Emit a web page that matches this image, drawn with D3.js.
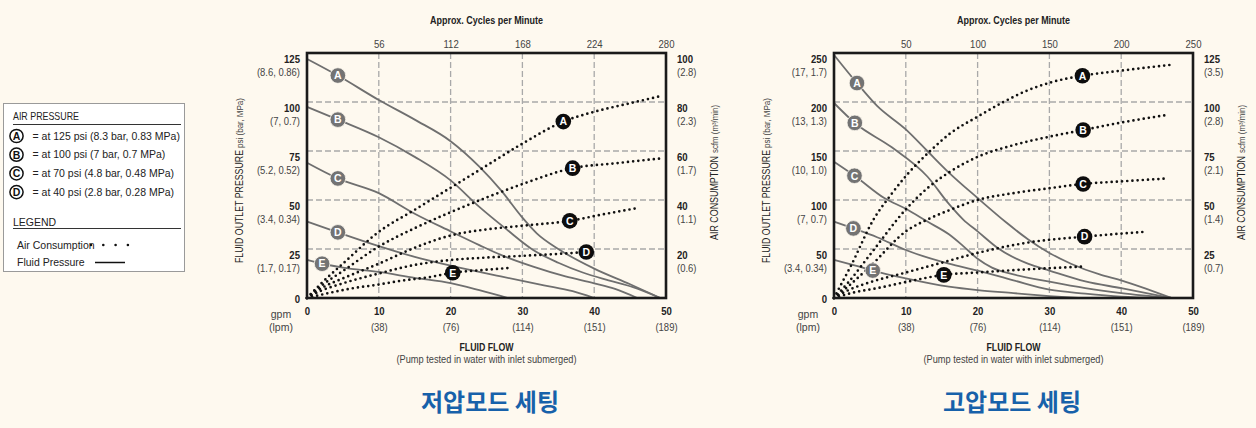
<!DOCTYPE html>
<html><head><meta charset="utf-8">
<script src="https://cdn.jsdelivr.net/npm/d3@7"></script>
<style>
html,body{margin:0;padding:0;background:#fef9ef;}
svg{display:block;}
text{font-family:"Liberation Sans Narrow","Liberation Sans",Arial,sans-serif;}
</style></head><body>
<svg id="c" width="1256" height="428"></svg>
<script>
// ---------- shared ----------
const seriesNames = ["A","B","C","D","E"];
const gpmTicks = [0,10,20,30,40,50];
const lpmLabels = ["","(38)","(76)","(114)","(151)","(189)"];

// ---------- low pressure mode ----------
const lowCycleTicks = [56,112,168,224,280];
const lowPsiTicks = [0,25,50,75,100,125];
const lowPsiSub = ["","(1.7, 0.17)","(3.4, 0.34)","(5.2, 0.52)","(7, 0.7)","(8.6, 0.86)"];
const lowAirTicks = [20,40,60,80,100];
const lowAirSub = ["(0.6)","(1.1)","(1.7)","(2.3)","(2.8)"];

const lowFluidA = [[0,122],[4.3,113.5],[10,101],[15,91],[20,80],[24,67],[27,55],[30,41],[32,33],[35,25],[40,15],[45,7],[49.2,0]];
const lowFluidB = [[0,97.5],[4.3,91],[10,82],[15,72],[20,60],[24,46.5],[27.8,35],[31.5,24.5],[35,18],[38.4,13],[42,9],[45.4,5.5],[49.2,0]];
const lowFluidC = [[0,69],[4.3,61],[10,53.5],[15,43],[20,34],[24,27],[27,22],[31.5,16],[36,11],[40,7.5],[43,4.5],[46,0]];
const lowFluidD = [[0,39],[4.3,33.5],[10,26.5],[15,21],[20,16.5],[27,11],[33,6.5],[37,3.5],[40,0]];
const lowFluidE = [[0,19.5],[2.1,17.5],[5,15.5],[10,13.3],[15,10.3],[20,7.6],[24,4],[28,0]];

const lowAirA = [[0,0],[2,6],[5,14],[10,27],[15,36],[20,45],[25,54],[30,63],[35.7,72],[40,76],[45,79.5],[49.4,82.5]];
const lowAirB = [[0,0],[2,5],[5,11],[10,21],[15,28.5],[20,35],[25,41],[30,46.5],[37,53],[43,55],[49.4,57]];
const lowAirC = [[0,0],[2,4],[5,8],[10,14],[15,20.5],[20,25.5],[25,28],[30,29.5],[36.6,31.5],[41,34],[46,36.7]];
const lowAirD = [[0,0],[2,3],[5,6],[10,10],[15,13.5],[20,15.5],[25,16.5],[30,17.2],[35,18],[39,18.8]];
const lowAirE = [[0,0],[3,2],[6,3.8],[10,5.5],[13,7],[17,8.5],[20.3,10.3],[24,11.3],[28.3,12.3]];

const lowFluidLabelGpm = [4.3,4.3,4.3,4.3,2.1];
const lowAirLabelGpm = [35.7,37,36.6,38.9,20.3];

// ---------- high pressure mode ----------
const highCycleTicks = [50,100,150,200,250];
const highPsiTicks = [0,50,100,150,200,250];
const highPsiSub = ["","(3.4, 0.34)","(7, 0.7)","(10, 1.0)","(13, 1.3)","(17, 1.7)"];
const highAirTicks = [25,50,75,100,125];
const highAirSub = ["(0.7)","(1.4)","(2.1)","(2.8)","(3.5)"];

const highFluidA = [[0,248],[3,221],[6,196],[10,172],[13,150],[16,128],[20,102],[24,77],[27,60],[30,46],[33,35],[37,24],[40,18],[44,8],[47,0]];
const highFluidB = [[0,199],[3,178],[8,154],[13,124],[16,96],[18,80],[20,68],[23,50],[27,35],[30,28],[35,17],[40,10],[47,0]];
const highFluidC = [[0,139],[3,124],[7,102],[10,91],[13,78],[16,65],[18,53],[20,40],[22,31],[25,24],[30,16.6],[35,10],[40,5],[47,0]];
const highFluidD = [[0,78],[2.7,71],[6,62],[10,49],[16,35],[20,28],[25,18],[30,8.5],[35,4.5],[40,1.5],[45,0]];
const highFluidE = [[0,39],[3,33],[5.4,28],[10,20],[16,11.5],[20,8],[25,5],[30,2],[34,0]];

const highAirA = [[0,0],[1,7],[2.3,16],[5.5,40],[8,53],[10.2,63],[13.4,75],[16.2,84],[20,92.5],[23.6,100],[27,106],[30.2,110],[34.6,113.4],[40,116],[47,119]];
const highAirB = [[0,0],[2,8],[5,22],[10.2,46],[13,56],[16.2,64.5],[20,72],[25,78],[30,82.3],[34.7,85.7],[40,89.5],[46.4,93.4]];
const highAirC = [[0,0],[2,6],[5,16],[10.2,34.5],[13,40],[16.2,45],[20,50],[25,53.5],[30,56],[34.7,58.2],[40,59.5],[46.5,61]];
const highAirD = [[0,0],[2,4],[5,8],[10,13],[15,18],[20,23],[27.4,28.5],[34.9,31.3],[43.4,33.8]];
const highAirE = [[0,0],[3,3],[6,5],[10.2,8.3],[15.3,11.8],[20,13],[25,14.2],[30,15.2],[34.6,16]];

const highFluidLabelGpm = [3.2,2.9,2.85,2.7,5.4];
const highAirLabelGpm = [34.6,34.7,34.7,34.9,15.3];

// ---------- legend ----------
const legendPressures = ["= at 125 psi (8.3 bar, 0.83 MPa)","= at 100 psi (7 bar, 0.7 MPa)","= at 70 psi (4.8 bar, 0.48 MPa)","= at 40 psi (2.8 bar, 0.28 MPa)"];

// ---------- drawing ----------
const svg = d3.select("#c");
svg.append("rect").attr("width",1256).attr("height",428).attr("fill","#fef9ef");

const TXT = "#222", SUB = "#444", GRID = "#a9a9a9", LINE = "#6f6f6f";

function interp(pts, x){
  for(let i=1;i<pts.length;i++){
    if(x<=pts[i][0]){const a=pts[i-1],b=pts[i];const t=(x-a[0])/(b[0]-a[0]);return a[1]+t*(b[1]-a[1]);}
  }
  return pts[pts.length-1][1];
}
// condense text horizontally (reference uses a condensed face)
function squeeze(sel, f){
  sel.each(function(){
    const L = this.getComputedTextLength();
    if(L>0) d3.select(this).attr("textLength", L*f).attr("lengthAdjust","spacingAndGlyphs");
  });
}
function fitTo(sel, w){ sel.attr("textLength", w).attr("lengthAdjust","spacingAndGlyphs"); }

function drawChart(c){
  const g = svg.append("g");
  const x = d3.scaleLinear().domain([0,50]).range([c.x0,c.x1]);
  const xc = d3.scaleLinear().domain([0,c.cycMax]).range([c.x0,c.x1]);
  const y = d3.scaleLinear().domain([0,c.psiMax]).range([c.y1,c.y0]);
  const ya = d3.scaleLinear().domain([0,c.airMax]).range([c.y1,c.y0]);

  // grid
  g.append("g").selectAll("line").data(gpmTicks.slice(1,-1)).join("line")
    .attr("x1",d=>x(d)).attr("x2",d=>x(d)).attr("y1",c.y0).attr("y2",c.y1)
    .attr("stroke",GRID).attr("stroke-width",1.3).attr("stroke-dasharray","6,3");
  g.append("g").selectAll("line").data(c.psiTicks.slice(1,-1)).join("line")
    .attr("y1",d=>y(d)).attr("y2",d=>y(d)).attr("x1",c.x0).attr("x2",c.x1)
    .attr("stroke",GRID).attr("stroke-width",1.3).attr("stroke-dasharray","6,3");

  // curves
  const lineF = d3.line().x(d=>x(d[0])).y(d=>y(d[1])).curve(d3.curveMonotoneX);
  const lineA = d3.line().x(d=>x(d[0])).y(d=>ya(d[1])).curve(d3.curveMonotoneX);
  g.append("g").selectAll("path").data(c.fluid).join("path")
    .attr("d",lineF).attr("fill","none").attr("stroke",LINE).attr("stroke-width",1.8);
  g.append("g").selectAll("path").data(c.air).join("path")
    .attr("d",lineA).attr("fill","none").attr("stroke","#111").attr("stroke-width",2.7)
    .attr("stroke-linecap","round").attr("stroke-dasharray","0,5.2");

  // frame
  g.append("rect").attr("x",c.x0).attr("y",c.y0).attr("width",c.x1-c.x0).attr("height",c.y1-c.y0)
    .attr("fill","none").attr("stroke","#1a1a1a").attr("stroke-width",2.6);

  // labels on curves
  const fl = g.append("g").selectAll("g").data(c.fluid).join("g")
    .attr("transform",(d,i)=>`translate(${x(c.fluidLab[i])},${y(interp(d,c.fluidLab[i]))})`);
  fl.append("circle").attr("r",7.8).attr("fill","#737373").attr("stroke","#fef9ef").attr("stroke-width",0.8);
  fl.append("text").text((d,i)=>seriesNames[i]).attr("text-anchor","middle").attr("dy","0.36em")
    .attr("fill","#fff").attr("font-weight","bold").attr("font-size",10.5);
  const al = g.append("g").selectAll("g").data(c.air).join("g")
    .attr("transform",(d,i)=>`translate(${x(c.airLab[i])},${ya(interp(d,c.airLab[i]))})`);
  al.append("circle").attr("r",7.8).attr("fill","#0d0d0d");
  al.append("text").text((d,i)=>seriesNames[i]).attr("text-anchor","middle").attr("dy","0.36em")
    .attr("fill","#fff").attr("font-weight","bold").attr("font-size",10.5);

  // top axis (cycles)
  const top = g.append("g").attr("transform",`translate(0,${c.y0})`)
    .call(d3.axisTop(xc).tickValues(c.cycTicks).tickSize(0).tickPadding(5));
  top.select(".domain").remove();
  top.selectAll("text").attr("font-size",11).attr("fill",SUB).attr("font-family",null).call(squeeze,0.87);
  g.append("text").text("Approx. Cycles per Minute").attr("x",(c.x0+c.x1)/2).attr("y",24)
    .attr("text-anchor","middle").attr("font-weight","bold").attr("font-size",10.5).attr("fill",TXT)
    .call(fitTo,113);

  // left axis
  const left = g.append("g").attr("transform",`translate(${c.x0},0)`)
    .call(d3.axisLeft(y).tickValues(c.psiTicks).tickSize(0).tickPadding(7));
  left.select(".domain").remove();
  left.selectAll("text").attr("font-size",11).attr("font-weight","bold").attr("fill",TXT)
    .attr("font-family",null).attr("dy",(d)=> d===0 ? "0.4em" : "0.85em").call(squeeze,0.87);
  left.selectAll(".tick").append("text").text((d,i)=>c.psiSub[i])
    .attr("x",-7).attr("y",22).attr("text-anchor","end").attr("font-size",10.5).attr("fill",SUB).call(squeeze,0.9);

  // right axis
  const right = g.append("g").attr("transform",`translate(${c.x1},0)`)
    .call(d3.axisRight(ya).tickValues(c.airTicks).tickSize(0).tickPadding(11));
  right.select(".domain").remove();
  right.selectAll("text").attr("font-size",11).attr("font-weight","bold").attr("fill",TXT)
    .attr("font-family",null).attr("dy","0.85em").call(squeeze,0.87);
  right.selectAll(".tick").append("text").text((d,i)=>c.airSub[i])
    .attr("x",11).attr("y",22).attr("text-anchor","start").attr("font-size",10.5).attr("fill",SUB).call(squeeze,0.9);

  // bottom axis
  const bot = g.append("g").attr("transform",`translate(0,${c.y1})`)
    .call(d3.axisBottom(x).tickValues(gpmTicks).tickSize(0).tickPadding(9));
  bot.select(".domain").remove();
  bot.selectAll("text").attr("font-size",11).attr("font-weight","bold").attr("fill",TXT).attr("font-family",null).call(squeeze,0.87);
  bot.selectAll(".tick").append("text").text((d,i)=>lpmLabels[i])
    .attr("y",33).attr("text-anchor","middle").attr("font-size",10.5).attr("fill",SUB).call(squeeze,0.9);
  g.append("text").text("gpm").attr("x",c.x0-26).attr("y",318).attr("text-anchor","middle").attr("font-size",10.5).attr("fill",SUB);
  g.append("text").text("(lpm)").attr("x",c.x0-26).attr("y",331).attr("text-anchor","middle").attr("font-size",10.5).attr("fill",SUB);

  g.append("text").text("FLUID FLOW").attr("x",(c.x0+c.x1)/2).attr("y",350.5)
    .attr("text-anchor","middle").attr("font-weight","bold").attr("font-size",10.5).attr("fill",TXT).call(fitTo,54);
  g.append("text").text("(Pump tested in water with inlet submerged)").attr("x",(c.x0+c.x1)/2).attr("y",362.5)
    .attr("text-anchor","middle").attr("font-size",10).attr("fill",SUB).call(fitTo,180);

  // axis titles (rotated, reading bottom to top)
  g.append("text").text("FLUID OUTLET PRESSURE")
    .attr("transform",`translate(${c.x0-64},263) rotate(-90)`)
    .attr("font-size",11).attr("fill",TXT).call(fitTo,113);
  g.append("text").text("psi (bar, MPa)")
    .attr("transform",`translate(${c.x0-64},148) rotate(-90)`)
    .attr("font-size",8.5).attr("fill",SUB).call(fitTo,50);
  g.append("text").text("AIR CONSUMPTION")
    .attr("transform",`translate(${c.x1+52},240) rotate(-90)`)
    .attr("font-size",11).attr("fill",TXT).call(fitTo,84);
  g.append("text").text("scfm (m³/min)")
    .attr("transform",`translate(${c.x1+52},153) rotate(-90)`)
    .attr("font-size",8.5).attr("fill",SUB).call(fitTo,48);

  // Korean title
  g.append("text").text(c.title).attr("x",c.titleX).attr("y",410.5)
    .attr("text-anchor","middle").attr("font-size",24).attr("font-weight","bold")
    .attr("fill","#1761aa").style("font-family","'Noto Sans CJK KR',sans-serif");
}

drawChart({x0:307,x1:666,y0:53,y1:298,cycMax:280,cycTicks:lowCycleTicks,psiMax:125,psiTicks:lowPsiTicks,psiSub:lowPsiSub,
  airMax:100,airTicks:lowAirTicks,airSub:lowAirSub,
  fluid:[lowFluidA,lowFluidB,lowFluidC,lowFluidD,lowFluidE],air:[lowAirA,lowAirB,lowAirC,lowAirD,lowAirE],
  fluidLab:lowFluidLabelGpm,airLab:lowAirLabelGpm,title:"저압모드 세팅",titleX:490});
drawChart({x0:834,x1:1193,y0:53,y1:298,cycMax:250,cycTicks:highCycleTicks,psiMax:250,psiTicks:highPsiTicks,psiSub:highPsiSub,
  airMax:125,airTicks:highAirTicks,airSub:highAirSub,
  fluid:[highFluidA,highFluidB,highFluidC,highFluidD,highFluidE],air:[highAirA,highAirB,highAirC,highAirD,highAirE],
  fluidLab:highFluidLabelGpm,airLab:highAirLabelGpm,title:"고압모드 세팅",titleX:1012});

// legend box
const lg = svg.append("g");
lg.append("rect").attr("x",3.5).attr("y",103.5).attr("width",181).attr("height",168)
  .attr("fill","#fff").attr("stroke","#9a9a9a").attr("stroke-width",1);
lg.append("text").text("AIR PRESSURE").attr("x",13).attr("y",120).attr("font-size",10.5).attr("fill",TXT).call(fitTo,66);
lg.append("line").attr("x1",13).attr("x2",181).attr("y1",124.5).attr("y2",124.5).attr("stroke","#333").attr("stroke-width",1);
const rows = lg.append("g").selectAll("g").data(legendPressures).join("g")
  .attr("transform",(d,i)=>`translate(16.5,${136+i*18.7})`);
rows.append("circle").attr("r",6.6).attr("fill","#fff").attr("stroke","#111").attr("stroke-width",1.5);
rows.append("text").text((d,i)=>seriesNames[i]).attr("text-anchor","middle").attr("dy","0.37em")
  .attr("font-size",10.5).attr("font-weight","bold").attr("fill","#111");
rows.append("text").text(d=>d).attr("x",16).attr("dy","0.36em").attr("font-size",10.5).attr("fill",TXT);
lg.append("text").text("LEGEND").attr("x",13).attr("y",225.5).attr("font-size",10.5).attr("fill",TXT);
lg.append("line").attr("x1",13).attr("x2",181).attr("y1",228.5).attr("y2",228.5).attr("stroke","#333").attr("stroke-width",1);
lg.append("text").text("Air Consumption").attr("x",17).attr("y",248.5).attr("font-size",10.5).attr("fill",TXT);
lg.append("line").attr("x1",91).attr("x2",129).attr("y1",245).attr("y2",245).attr("stroke","#111")
  .attr("stroke-width",2.6).attr("stroke-linecap","round").attr("stroke-dasharray","0,12.3");
lg.append("text").text("Fluid Pressure").attr("x",17).attr("y",265.5).attr("font-size",10.5).attr("fill",TXT);
lg.append("line").attr("x1",95).attr("x2",125).attr("y1",262.5).attr("y2",262.5).attr("stroke","#111").attr("stroke-width",1.5);
</script>
</body></html>
